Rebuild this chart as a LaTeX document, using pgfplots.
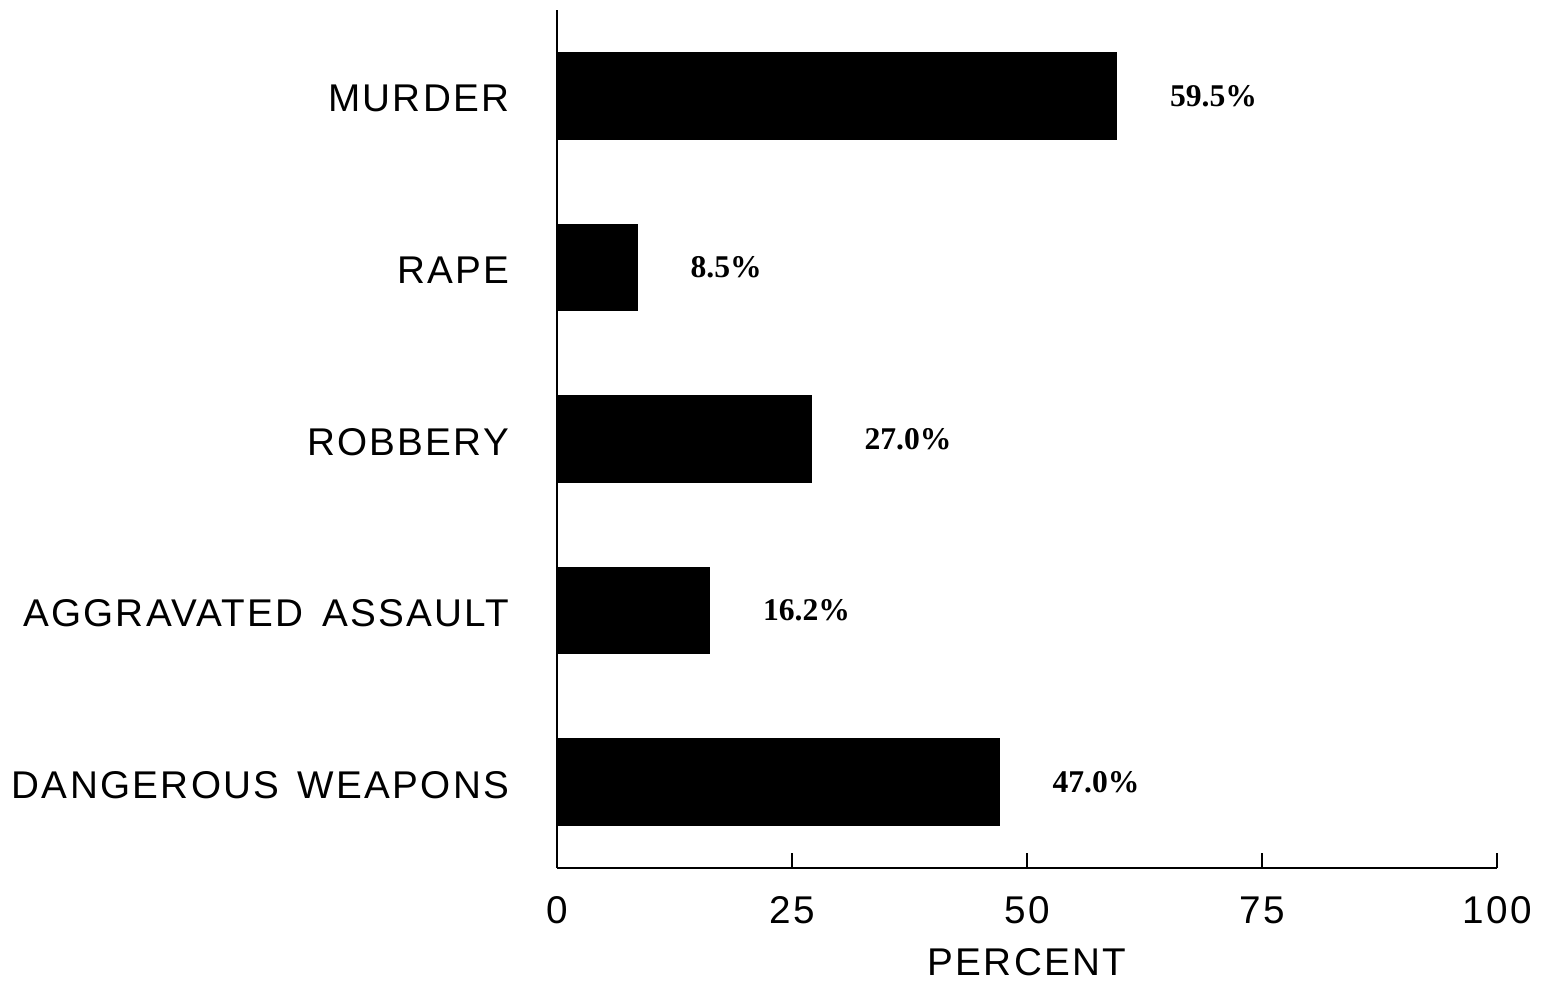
\documentclass[border=0pt]{standalone}
\usepackage{fontspec}
\setmainfont{Liberation Sans}[LetterSpace=6, WordSpace=1.4]
\newfontfamily\valfont{Liberation Serif}
\usepackage{pgfplots}
\pgfplotsset{compat=1.18}
\begin{document}
\begin{tikzpicture}
\begin{axis}[
  scale only axis,
  width=94mm, height=85.8mm,
  xbar, bar width=8.6mm,
  xmin=0, xmax=100, ymin=-0.5, ymax=4.5,
  axis x line*=bottom, axis y line*=left,
  axis line style={-, line width=0.6pt},
  xtick={0,25,50,75,100},
  ytick={0,1,2,3,4},
  yticklabels={DANGEROUS WEAPONS, AGGRAVATED ASSAULT, ROBBERY, RAPE, MURDER},
  y tick style={draw=none},
  x tick style={line width=0.6pt, black},
  major tick length=1.5mm,
  tick align=inside,
  /pgf/number format/assume math mode=true,
  tick label style={font=\fontsize{11}{13}\selectfont},
  xticklabel style={inner sep=0pt, anchor=north, yshift=-2.8mm},
  yticklabel style={inner sep=0pt, anchor=east, xshift=-4.7mm, yshift=-0.3mm},
  xlabel={PERCENT},
  xlabel style={font=\fontsize{11}{13}\selectfont, inner sep=0pt,
                at={(axis description cs:0.5,0)}, anchor=north, yshift=-8mm},
  point meta=explicit symbolic,
  nodes near coords={\pgfplotspointmeta},
  every node near coord/.append style={font=\valfont\bfseries\fontsize{9}{11}\selectfont,
                                       anchor=west, inner sep=0pt, xshift=5.3mm},
  clip=false,
]
\addplot[fill=black, draw=black] coordinates {
  (47.0,0) [47.0\%]
  (16.2,1) [16.2\%]
  (27.0,2) [27.0\%]
  (8.5,3)  [8.5\%]
  (59.5,4) [59.5\%]
};
\coordinate (bbsw) at (axis description cs:-0.5926,-0.1364);
\coordinate (bbne) at (axis description cs:1.0553,1.0117);
\end{axis}
\useasboundingbox (bbsw) rectangle (bbne);
\end{tikzpicture}
\end{document}
